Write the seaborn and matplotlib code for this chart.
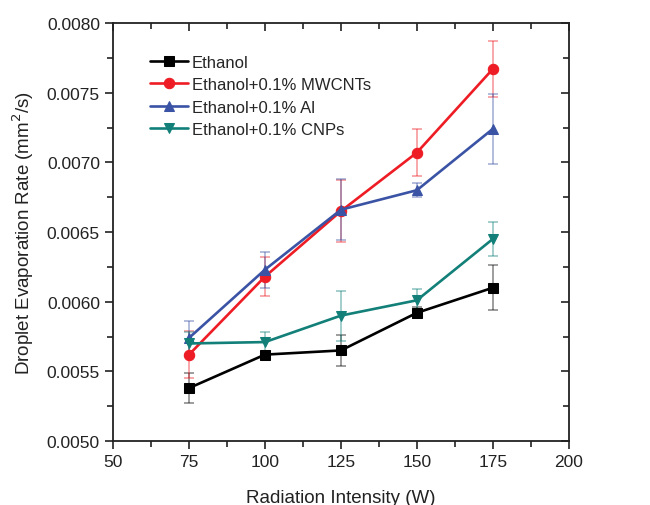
import matplotlib
matplotlib.use("Agg")
import matplotlib.pyplot as plt
import seaborn as sns
import pandas as pd
import numpy as np
from matplotlib.ticker import MultipleLocator, FormatStrFormatter

power = [75, 100, 125, 150, 175]
series_names = ["Ethanol", "Ethanol+0.1% MWCNTs", "Ethanol+0.1% Al", "Ethanol+0.1% CNPs"]
ethanol = [0.00538, 0.00562, 0.00565, 0.00592, 0.00610]
ethanol_err = [0.00011, 0.00002, 0.00011, 0.00004, 0.00016]
mwcnts = [0.00562, 0.00618, 0.00665, 0.00707, 0.00767]
mwcnts_err = [0.00017, 0.00014, 0.00022, 0.00017, 0.00020]
al = [0.00574, 0.00623, 0.00666, 0.00680, 0.00724]
al_err = [0.00012, 0.00013, 0.00022, 0.00005, 0.00025]
cnps = [0.00570, 0.00571, 0.00590, 0.00601, 0.00645]
cnps_err = [0.00008, 0.00007, 0.00018, 0.00008, 0.00012]

values = [ethanol, mwcnts, al, cnps]
errors = [ethanol_err, mwcnts_err, al_err, cnps_err]
colors = ["#000000", "#ee1c24", "#3a53a4", "#128079"]
markers = ["s", "o", "^", "v"]
msizes = [6.5, 7.5, 7.5, 7.5]

sns.set_style("ticks")
plt.rcParams["font.family"] = ["Liberation Sans", "DejaVu Sans"]

fig = plt.figure(figsize=(6.5, 5.06), dpi=100)
ax = fig.add_axes([0.174, 0.1265, 0.701, 0.826])

for name, vals, errs, c, m, ms in zip(series_names, values, errors, colors, markers, msizes):
    df = pd.DataFrame({"power": power, "rate": vals})
    ax.errorbar(power, vals, yerr=errs, fmt="none", ecolor=c, alpha=0.45,
                elinewidth=1.2, capsize=3.5, capthick=1.2, zorder=1)
    sns.lineplot(data=df, x="power", y="rate", ax=ax, color=c, marker=m,
                 markersize=ms, markeredgecolor=c,
                 linewidth=1.9, label=name, zorder=3)

ax.set_xlim(50, 200)
ax.set_ylim(0.0050, 0.0080)
ax.xaxis.set_major_locator(MultipleLocator(25))
ax.xaxis.set_minor_locator(MultipleLocator(12.5))
ax.yaxis.set_major_locator(MultipleLocator(0.0005))
ax.yaxis.set_minor_locator(MultipleLocator(0.00025))
ax.yaxis.set_major_formatter(FormatStrFormatter("%.4f"))

ax.tick_params(which="both", direction="out", top=False, right=False,
               labelsize=12.5, width=1.2, colors="#222222")
ax.tick_params(which="major", length=6)
ax.tick_params(which="minor", length=4)
for side in ["top", "right", "left", "bottom"]:
    ax.spines[side].set_visible(True)
    ax.spines[side].set_linewidth(1.3)
    ax.spines[side].set_color("#222222")

# mirrored inward ticks on top/right
axt = ax.secondary_xaxis("top")
axt.xaxis.set_major_locator(MultipleLocator(25))
axt.xaxis.set_minor_locator(MultipleLocator(12.5))
axt.tick_params(which="both", direction="in", labeltop=False, width=1.2, colors="#222222")
axt.tick_params(which="major", length=6)
axt.tick_params(which="minor", length=4)
axt.spines["top"].set_visible(False)
axr = ax.secondary_yaxis("right")
axr.yaxis.set_major_locator(MultipleLocator(0.0005))
axr.yaxis.set_minor_locator(MultipleLocator(0.00025))
axr.tick_params(which="both", direction="in", labelright=False, width=1.2, colors="#222222")
axr.tick_params(which="major", length=6)
axr.tick_params(which="minor", length=4)
axr.spines["right"].set_visible(False)

ax.set_xlabel("Radiation Intensity (W)", fontsize=13.5, labelpad=14, color="#222222")
ax.set_ylabel("Droplet Evaporation Rate (mm$^2$/s)", fontsize=13.5, labelpad=8, color="#222222")

leg = ax.legend(loc="upper left", bbox_to_anchor=(0.066, 0.94), frameon=False,
                fontsize=12, handlelength=2.3, handletextpad=0.2, labelspacing=0.45,
                borderaxespad=0)

fig.savefig("out.png", dpi=100)
